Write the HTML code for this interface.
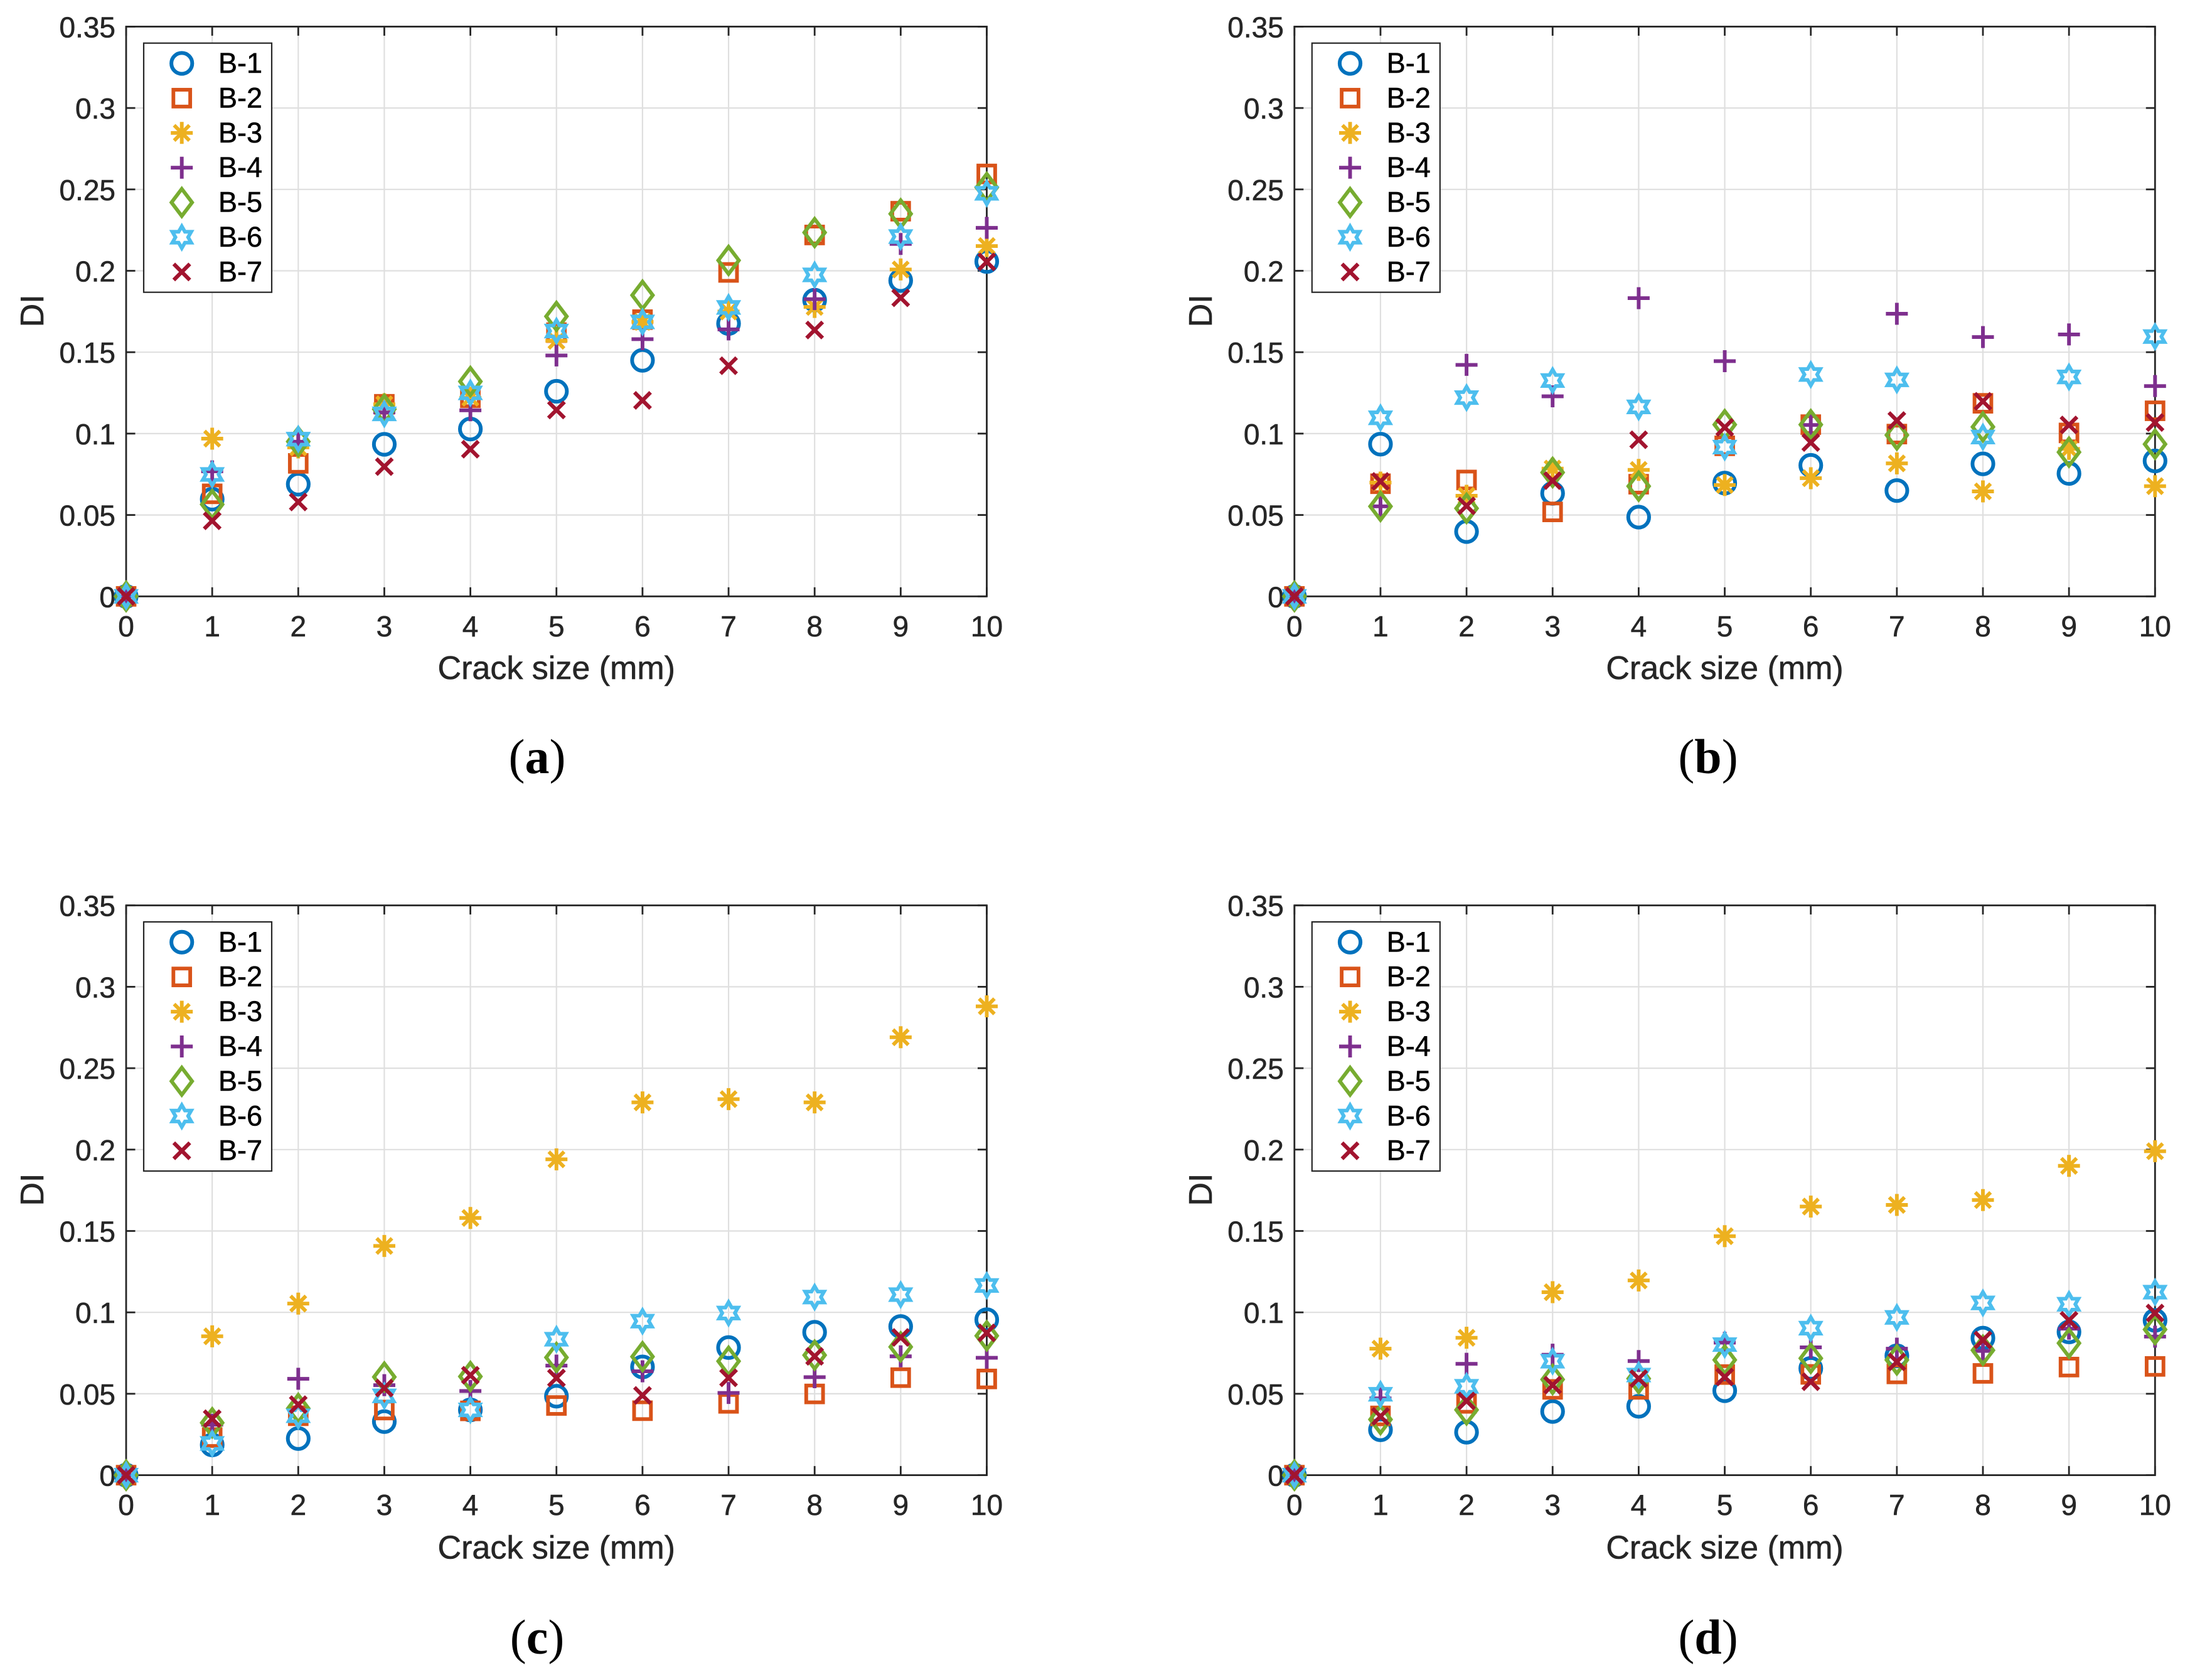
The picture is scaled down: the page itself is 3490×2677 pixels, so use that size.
<!DOCTYPE html>
<html lang="en">
<head>
<meta charset="utf-8">
<title>DI versus crack size</title>
<style>
html,body{margin:0;padding:0;background:#fff;}
body{width:3490px;height:2677px;overflow:hidden;}
svg{display:block;}
text{font-family:"Liberation Sans",Arial,sans-serif;}
.caption{font-family:"Liberation Serif","Times New Roman",serif;font-size:78px;fill:#000;text-anchor:middle;}
.caption tspan{font-weight:bold;}
</style>
</head>
<body>
<svg id="figure" xmlns="http://www.w3.org/2000/svg" width="3490" height="2677" viewBox="0 0 3490 2677">
  <rect x="0" y="0" width="3490" height="2677" fill="#fff"/>
  <text class="caption" x="856" y="1232">(<tspan>a</tspan>)</text>
  <text class="caption" x="2722" y="1232">(<tspan>b</tspan>)</text>
  <text class="caption" x="856" y="2635">(<tspan>c</tspan>)</text>
  <text class="caption" x="2722" y="2635">(<tspan>d</tspan>)</text>
</svg>
<script>
const crackSizes = [0, 1, 2, 3, 4, 5, 6, 7, 8, 9, 10];
const yTickValues = [0, 0.05, 0.1, 0.15, 0.2, 0.25, 0.3, 0.35];
const yTickLabels = ['0', '0.05', '0.1', '0.15', '0.2', '0.25', '0.3', '0.35'];
const xTickLabels = ['0', '1', '2', '3', '4', '5', '6', '7', '8', '9', '10'];
const seriesNames = ['B-1', 'B-2', 'B-3', 'B-4', 'B-5', 'B-6', 'B-7'];

const panelA_B1 = [0, .0597, .0689, .0934, .1028, .126, .145, .1676, .182, .194, .2057];
const panelA_B2 = [0, .063, .0817, .118, .122, .162, .170, .199, .222, .2366, .2595];
const panelA_B3 = [0, .0969, .0915, .118, .122, .157, .1686, .175, .1778, .2008, .2152];
const panelA_B4 = [0, .0768, .095, .113, .1143, .148, .158, .164, .1826, .2165, .2264];
const panelA_B5 = [0, .0565, .0951, .115, .132, .172, .185, .2064, .2235, .235, .2512];
const panelA_B6 = [0, .0749, .0966, .1121, .125, .163, .1686, .1775, .1975, .221, .2476];
const panelA_B7 = [0, .0464, .058, .0797, .0904, .1145, .1204, .1417, .1636, .1834, .2055];

const panelB_B1 = [0, .0935, .0398, .0633, .0487, .0696, .0805, .065, .0814, .0755, .0832];
const panelB_B2 = [0, .0692, .0715, .0519, .0689, .0925, .1055, .0997, .1186, .1004, .114];
const panelB_B3 = [0, .0699, .0618, .0785, .0777, .0684, .0726, .0817, .0645, .0906, .0677];
const panelB_B4 = [0, .0553, .1422, .1229, .1832, .1445, .1053, .1736, .1593, .1609, .1292];
const panelB_B5 = [0, .0553, .0541, .0761, .0677, .1055, .1055, .0991, .1041, .0886, .0935];
const panelB_B6 = [0, .1097, .1221, .1326, .1164, .0917, .1363, .133, .0979, .1348, .1596];
const panelB_B7 = [0, .0706, .0556, .0711, .0962, .1038, .0945, .108, .1198, .1053, .1068];

const panelC_B1 = [0, .0186, .0225, .0329, .0401, .0485, .0665, .0784, .0878, .0913, .0955];
const panelC_B2 = [0, .0231, .0365, .04, .0395, .0428, .0396, .0441, .0499, .0599, .0591];
const panelC_B3 = [0, .0853, .1054, .1408, .158, .194, .229, .231, .229, .269, .288];
const panelC_B4 = [0, .031, .0592, .0553, .0517, .0673, .0638, .0505, .0602, .073, .0721];
const panelC_B5 = [0, .0322, .041, .0603, .0606, .0723, .0728, .07, .0737, .0788, .0856];
const panelC_B6 = [0, .0195, .0365, .0487, .0401, .0835, .0946, .0996, .1094, .1109, .1165];
const panelC_B7 = [0, .0347, .0433, .0535, .0614, .0597, .049, .0598, .073, .0846, .0874];

const panelD_B1 = [0, .0279, .0264, .0391, .0423, .0519, .0656, .0733, .0842, .088, .0951];
const panelD_B2 = [0, .0364, .0441, .0527, .0527, .0618, .0619, .0622, .0625, .0664, .0668];
const panelD_B3 = [0, .0777, .0844, .1124, .1196, .1468, .165, .166, .169, .19, .199];
const panelD_B4 = [0, .0472, .0684, .074, .0701, .0814, .0785, .0777, .0763, .09, .0851];
const panelD_B5 = [0, .0342, .0401, .0588, .0593, .0708, .0718, .0708, .0767, .0811, .0895];
const panelD_B6 = [0, .0497, .0546, .07, .0615, .0802, .0903, .0969, .1058, .105, .1124];
const panelD_B7 = [0, .0361, .0456, .0553, .0593, .0603, .0574, .0696, .083, .0951, .0996];

const NS = 'http://www.w3.org/2000/svg';
const svg = document.getElementById('figure');
const AXIS = '#262626';
const GRID = '#dfdfdf';
const colors = ['#0072BD', '#D95319', '#EDB120', '#7E2F8E', '#77AC30', '#4DBEEE', '#A2142F'];
const shapes = ['circle', 'square', 'asterisk', 'plus', 'diamond', 'hexagram', 'cross'];
const PLOT_W = 1371.5;
const PLOT_H = 907.9;
const X_MAX = 10;
const Y_MAX = 0.35;

function svgEl(tag, attrs, parent) {
  const el = document.createElementNS(NS, tag);
  for (const k in attrs) el.setAttribute(k, attrs[k]);
  parent.appendChild(el);
  return el;
}

function segment(parent, x1, y1, x2, y2, stroke, width) {
  return svgEl('line', { x1: x1, y1: y1, x2: x2, y2: y2, stroke: stroke, 'stroke-width': width }, parent);
}

function hexagramPoints(R) {
  const r = R / Math.sqrt(3);
  const pts = [];
  for (let i = 0; i < 12; i++) {
    const a = Math.PI / 2 + i * Math.PI / 6;
    const d = i % 2 === 0 ? R : r;
    pts.push((d * Math.cos(a)).toFixed(2) + ',' + (-d * Math.sin(a)).toFixed(2));
  }
  return pts.join(' ');
}

function drawShape(shape, g, color) {
  const common = { fill: 'none', stroke: color };
  if (shape === 'circle') {
    svgEl('circle', Object.assign({ cx: 0, cy: 0, r: 16.6, 'stroke-width': 6 }, common), g);
  } else if (shape === 'square') {
    svgEl('rect', Object.assign({ x: -13.4, y: -13.4, width: 26.8, height: 26.8, 'stroke-width': 5.9 }, common), g);
  } else if (shape === 'asterisk') {
    segment(g, 0, -17.5, 0, 17.5, color, 5.9);
    segment(g, -17.5, 0, 17.5, 0, color, 5.9);
    segment(g, -12.2, -12.2, 12.2, 12.2, color, 5.9);
    segment(g, -12.2, 12.2, 12.2, -12.2, color, 5.9);
  } else if (shape === 'plus') {
    segment(g, 0, -17.5, 0, 17.5, color, 5.9);
    segment(g, -17.5, 0, 17.5, 0, color, 5.9);
  } else if (shape === 'diamond') {
    svgEl('polygon', Object.assign({ points: '0,-21.6 16.4,0 0,21.6 -16.4,0', 'stroke-width': 5.9, 'stroke-miterlimit': 10 }, common), g);
  } else if (shape === 'hexagram') {
    svgEl('polygon', Object.assign({ points: hexagramPoints(17.4), 'stroke-width': 5.8, 'stroke-miterlimit': 10 }, common), g);
  } else {
    segment(g, -12.8, -12.8, 12.8, 12.8, color, 6.2);
    segment(g, -12.8, 12.8, 12.8, -12.8, color, 6.2);
  }
}

function drawPanel(id, left, top, series, xTitleGap) {
  const right = left + PLOT_W;
  const bottom = top + PLOT_H;
  const xPos = function (v) { return left + (v / X_MAX) * PLOT_W; };
  const yPos = function (v) { return bottom - (v / Y_MAX) * PLOT_H; };

  const panel = svgEl('g', {}, svg);
  
  

  const plotBg = svgEl('rect', { x: left, y: top, width: PLOT_W, height: PLOT_H, fill: '#fff' }, panel);
  
  

  const grid = svgEl('g', {}, panel);
  
  
  crackSizes.forEach(function (v) {
    const line = segment(grid, xPos(v), top, xPos(v), bottom, GRID, 2.2);
    
    
  });
  yTickValues.forEach(function (v) {
    const line = segment(grid, left, yPos(v), right, yPos(v), GRID, 2.2);
    
    
  });

  const axes = svgEl('g', {}, panel);
  
  
  const box = svgEl('rect', { x: left, y: top, width: PLOT_W, height: PLOT_H, fill: 'none', stroke: AXIS, 'stroke-width': 2.8 }, axes);
  
  

  crackSizes.forEach(function (v, i) {
    const tb = segment(axes, xPos(v), bottom, xPos(v), bottom - 14.5, AXIS, 2.8);
    
    
    const tt = segment(axes, xPos(v), top, xPos(v), top + 14.5, AXIS, 2.8);
    
    
    const label = svgEl('text', { x: xPos(v), y: bottom + 63.5, 'font-size': 46, fill: AXIS, stroke: AXIS, 'stroke-width': 0.6, 'text-anchor': 'middle' }, axes);
    label.textContent = xTickLabels[i];
    
    
  });

  yTickValues.forEach(function (v, i) {
    const tl = segment(axes, left, yPos(v), left + 14.5, yPos(v), AXIS, 2.8);
    
    
    const tr = segment(axes, right, yPos(v), right - 14.5, yPos(v), AXIS, 2.8);
    
    
    const label = svgEl('text', { x: left - 17, y: yPos(v) + 17, 'font-size': 46, fill: AXIS, stroke: AXIS, 'stroke-width': 0.6, 'text-anchor': 'end' }, axes);
    label.textContent = yTickLabels[i];
    
    
  });

  const xTitle = svgEl('text', { x: (left + right) / 2, y: bottom + xTitleGap, 'font-size': 52, fill: AXIS, stroke: AXIS, 'stroke-width': 0.6, 'text-anchor': 'middle' }, axes);
  xTitle.textContent = 'Crack size (mm)';
  
  

  const yTitleX = left - 132;
  const yTitleY = (top + bottom) / 2 - 1;
  const yTitle = svgEl('text', { x: yTitleX, y: yTitleY, 'font-size': 52, fill: AXIS, stroke: AXIS, 'stroke-width': 0.6, 'text-anchor': 'middle', transform: 'rotate(-90 ' + yTitleX + ' ' + yTitleY + ')' }, axes);
  yTitle.textContent = 'DI';
  
  

  series.forEach(function (values, s) {
    const group = svgEl('g', {}, panel);
    
    
    values.forEach(function (v, i) {
      const m = svgEl('g', { transform: 'translate(' + xPos(crackSizes[i]).toFixed(2) + ' ' + yPos(v).toFixed(2) + ')' }, group);
      
      
      drawShape(shapes[s], m, colors[s]);
    });
  });

  const legendLeft = left + 28;
  const legendTop = top + 26.3;
  const legend = svgEl('g', {}, panel);
  
  
  const legendBox = svgEl('rect', { x: legendLeft, y: legendTop, width: 204, height: 397, fill: '#fff', stroke: AXIS, 'stroke-width': 2.2 }, legend);
  
  
  seriesNames.forEach(function (name, s) {
    const rowY = legendTop + 32.3 + s * 55.4;
    const entry = svgEl('g', {}, legend);
    
    
    const icon = svgEl('g', { transform: 'translate(' + (legendLeft + 60.7) + ' ' + rowY + ')' }, entry);
    
    
    drawShape(shapes[s], icon, colors[s]);
    const text = svgEl('text', { x: legendLeft + 119, y: rowY + 15, 'font-size': 45, fill: '#000', stroke: '#000', 'stroke-width': 0.6 }, entry);
    text.textContent = name;
    
    
  });
}

drawPanel('a', 201, 42.4, [panelA_B1, panelA_B2, panelA_B3, panelA_B4, panelA_B5, panelA_B6, panelA_B7], 131.5);
drawPanel('b', 2062.8, 42.4, [panelB_B1, panelB_B2, panelB_B3, panelB_B4, panelB_B5, panelB_B6, panelB_B7], 131.5);
drawPanel('c', 201, 1442.7, [panelC_B1, panelC_B2, panelC_B3, panelC_B4, panelC_B5, panelC_B6, panelC_B7], 133);
drawPanel('d', 2062.8, 1442.7, [panelD_B1, panelD_B2, panelD_B3, panelD_B4, panelD_B5, panelD_B6, panelD_B7], 133);
</script>
</body>
</html>
